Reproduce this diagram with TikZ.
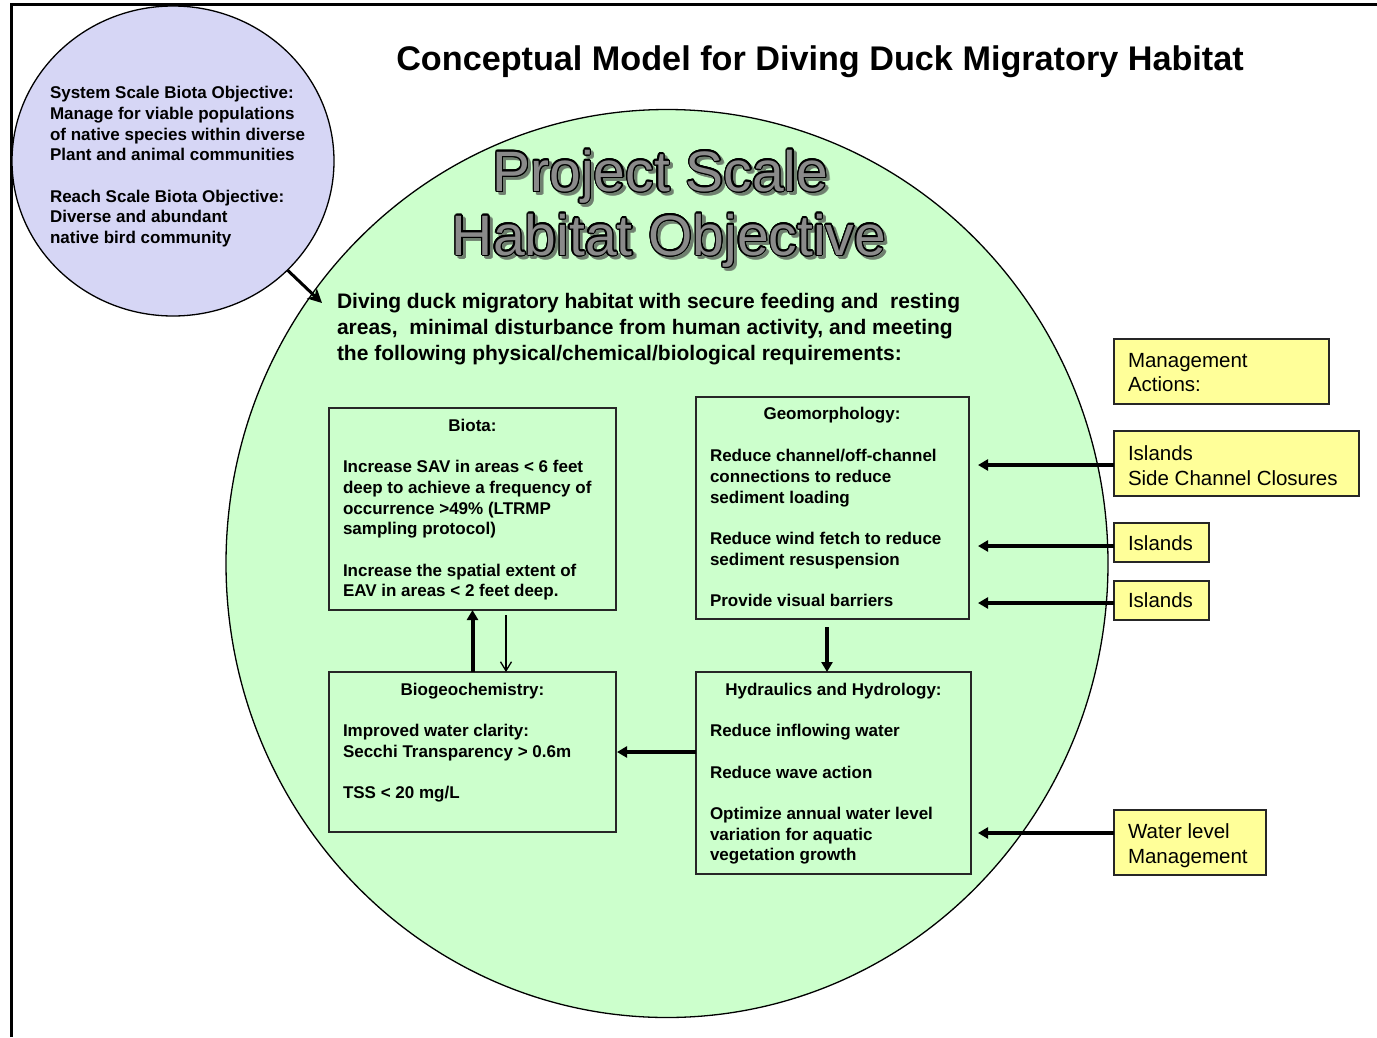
\documentclass[tikz,border=0pt]{standalone}
\usepackage{fontspec}
\setmainfont{Liberation Sans}
\usetikzlibrary{arrows.meta,shapes.geometric}
\definecolor{lav}{HTML}{D6D6F5}
\definecolor{mint}{HTML}{CCFFCC}
\definecolor{pale}{HTML}{FFFF99}
\definecolor{slate}{HTML}{8A8A8A}
\definecolor{shade}{HTML}{6F7F6F}

\begin{document}
\begin{tikzpicture}[x=1pt,y=-1pt,
  every node/.style={inner sep=0pt,outer sep=0pt},
  box/.style={draw=black!85,line width=1.3pt,rectangle},
  mgmt/.style={draw=black!85,line width=1.3pt,fill=pale,rectangle},
  body/.style={font=\fontsize{17}{20.7}\selectfont\bfseries,align=left,anchor=north west},
  boxtitle/.style={font=\fontsize{17}{20.7}\selectfont\bfseries,anchor=base},
  action/.style={font=\fontsize{20.5}{24.5}\selectfont,align=left,anchor=north west},
  bigtitle/.style={font=\fontsize{57}{60}\selectfont,anchor=base},
  heavy/.style={line width=4pt,-{Triangle[length=10pt,width=11pt]}},
  light/.style={line width=1.3pt,-{Straight Barb[length=9pt,width=11pt]}},
  feed/.style={line width=3pt,-{Stealth[length=14pt,width=14pt,inset=4pt]}}
]
\useasboundingbox (0,0) rectangle (1377,1037);

% frame lines along the top and left edges
\draw[line width=3pt] (11.3,1037) -- (11.3,4.5) -- (1377,4.5);

% main title
\node[font=\fontsize{34.2}{40}\selectfont\bfseries,anchor=base] (title) at (820,70)
  {Conceptual Model for Diving Duck Migratory Habitat};

% large project-scale circle
\node[ellipse,draw=black,line width=1.3pt,fill=mint,minimum width=882pt,minimum height=908pt]
  (project) at (667,563.5) {};

% system / reach objective circle
\node[ellipse,draw=black,line width=1.3pt,fill=lav,minimum width=322pt,minimum height=310pt]
  (system) at (173,161) {};
\node[body] (systemtext) at (50,86.4) {System Scale Biota Objective:\\
Manage for viable populations\\
of native species within diverse\\
Plant and animal communities\\[20.7pt]
Reach Scale Biota Objective:\\
Diverse and abundant\\
native bird community};

\coordinate (feedtip) at (322,303);
\draw[feed] (system) -- (feedtip);

% outlined heading with drop shadow
\foreach \a in {0,20,...,340} {
  \node[bigtitle,text=shade,opacity=0.55] (shA\a) at ([shift={(\a:1.4pt)}]663.5,194) {Project Scale};
  \node[bigtitle,text=shade,opacity=0.55] (shB\a) at ([shift={(\a:1.4pt)}]672,258) {Habitat Objective};
}
\foreach \a in {0,20,...,340} {
  \node[bigtitle,text=black] (olA\a) at ([shift={(\a:1.3pt)}]660.5,191) {Project Scale};
  \node[bigtitle,text=black] (olB\a) at ([shift={(\a:1.3pt)}]669,255) {Habitat Objective};
}
\node[bigtitle,text=slate] (headA) at (660.5,191) {Project Scale};
\node[bigtitle,text=slate] (headB) at (669,255) {Habitat Objective};

% habitat objective statement
\node[font=\fontsize{21}{26}\selectfont\bfseries,align=left,anchor=north west] (statement) at (337,292.8)
  {Diving duck migratory habitat with secure feeding and\ \ resting\\
areas,\ \ minimal disturbance from human activity, and meeting\\
the following physical/chemical/biological requirements:};

% component boxes
\node[box,minimum width=287pt,minimum height=202pt] (biota) at (472.5,509) {};
\node[box,minimum width=273pt,minimum height=222pt] (geo) at (832.5,508) {};
\node[box,minimum width=287pt,minimum height=160pt] (biogeo) at (472.5,752) {};
\node[box,minimum width=275pt,minimum height=202pt] (hydro) at (833.5,773) {};

\node[boxtitle] (biotatitle) at (472.5,431.6) {Biota:};
\node[body] (biotatext) at (343,460.4) {Increase SAV in areas < 6 feet\\
deep to achieve a frequency of\\
occurrence >49\% (LTRMP\\
sampling protocol)\\[20.7pt]
Increase the spatial extent of\\
EAV in areas < 2 feet deep.};

\node[boxtitle] (geotitle) at (832,419.6) {Geomorphology:};
\node[body] (geotext) at (710,449.4) {Reduce channel/off-channel\\
connections to reduce\\
sediment loading\\[20.5pt]
Reduce wind fetch to reduce\\
sediment resuspension\\[20.5pt]
Provide visual barriers};

\node[boxtitle] (biogeotitle) at (472.5,695.6) {Biogeochemistry:};
\node[body] (biogeotext) at (343,724.4) {Improved water clarity:\\
Secchi Transparency > 0.6m\\[20.7pt]
TSS < 20 mg/L};

\node[boxtitle] (hydrotitle) at (833.5,695.6) {Hydraulics and Hydrology:};
\node[body] (hydrotext) at (710,724.4) {Reduce inflowing water\\[20.7pt]
Reduce wave action\\[20.7pt]
Optimize annual water level\\
variation for aquatic\\
vegetation growth};

% management action boxes
\node[mgmt,minimum width=215pt,minimum height=65pt] (actions) at (1221.5,371.5) {};
\node[mgmt,minimum width=245pt,minimum height=65pt] (isl1) at (1236.5,463.5) {};
\node[mgmt,minimum width=95pt,minimum height=39pt] (isl2) at (1161.5,542.5) {};
\node[mgmt,minimum width=95pt,minimum height=39pt] (isl3) at (1161.5,600.5) {};
\node[mgmt,minimum width=152pt,minimum height=65pt] (water) at (1190,842.5) {};

\node[action] (actionstext) at (1128,353) {Management\\Actions:};
\node[action] (isl1text) at (1128,446) {Islands\\Side Channel Closures};
\node[action] (isl2text) at (1128,536) {Islands};
\node[action] (isl3text) at (1128,593) {Islands};
\node[action] (watertext) at (1128,824) {Water level\\Management};

% links between components
\draw[heavy] (biogeo.north) -- (biota.south);
\draw[light] ([xshift=33.5pt,yshift=-5pt]biota.south) -- ([xshift=33.5pt]biogeo.north);
\draw[heavy] ([xshift=-5.5pt,yshift=-8pt]geo.south) -- ([xshift=-6.5pt]hydro.north);
\draw[heavy] (hydro.west |- biogeo.east) -- ([xshift=1pt]biogeo.east);

% management actions acting on components
\draw[heavy] ([yshift=-1.5pt]isl1.west) -- ([xshift=9pt,yshift=-1.5pt]geo.east |- isl1.west);
\draw[heavy] ([yshift=-3.5pt]isl2.west) -- ([xshift=9pt,yshift=-3.5pt]geo.east |- isl2.west);
\draw[heavy] ([yshift=-2.5pt]isl3.west) -- ([xshift=9pt,yshift=-2.5pt]geo.east |- isl3.west);
\draw[heavy] ([yshift=9.5pt]water.west) -- ([xshift=7pt,yshift=9.5pt]hydro.east |- water.west);
\end{tikzpicture}
\end{document}
